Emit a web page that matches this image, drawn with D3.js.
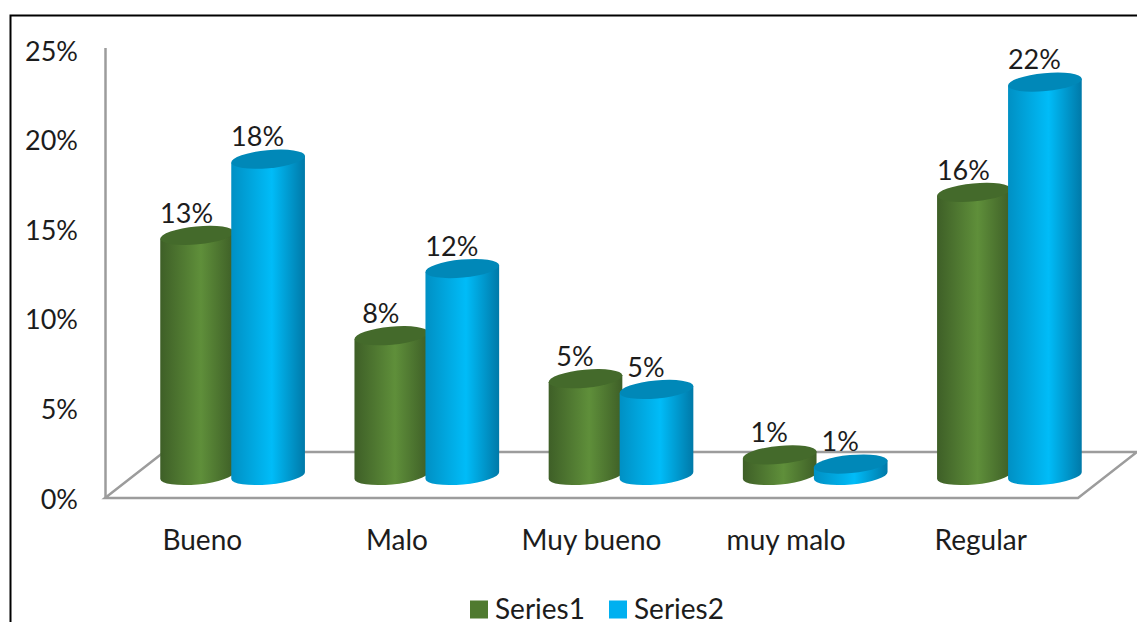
<!DOCTYPE html>
<html>
<head>
<meta charset="utf-8">
<script src="https://cdn.jsdelivr.net/npm/d3@7"></script>
<style>
  html, body { margin: 0; padding: 0; background: #fff; overflow: hidden; }
  text { font-family: Lato, "Open Sans", sans-serif; fill: #1c1c1c; }
</style>
</head>
<body>
<div id="chart"></div>
<script>
var categories = ['Bueno', 'Malo', 'Muy bueno', 'muy malo', 'Regular'];
var seriesNames = ['Series1', 'Series2'];
var series1 = [0.134, 0.078, 0.054, 0.0115, 0.158];
var series2 = [0.1765, 0.1155, 0.048, 0.0064, 0.2195];
var yTicks = [0, 0.05, 0.10, 0.15, 0.20, 0.25];

var width = 1137, height = 622;
var numberSize = 27, labelSize = 28;

// floor of the 3d box: front edge runs along the axis, back edge is further up and to the right
var floor = {left: 105, right: 1078, y: 498, dx: 59, dy: 46};
var plotTop = 48;

var colors = {
  Series1: {left: '#3e5f27', mid: '#5f8f3a', right: '#3e5f27', top: '#446a2b', swatch: '#4f7a2f'},
  Series2: {left: '#0090c4', mid: '#00bcf8', right: '#0079a8', top: '#0088b8', swatch: '#00b0f0'}
};

var percent = d3.format('.0%');

var yscale = d3.scaleLinear().domain([0, 0.25]).range([floor.y, plotTop + 2]);

// labels sit on the front edge of the floor
var xscale = d3.scaleBand().domain(categories).range([floor.left, floor.right]);

// cylinders stand half way into the depth of the floor
var barX = d3.scaleBand().domain(categories)
              .range([floor.left + 30.5, floor.right + 28.5]);
var seriesX = d3.scaleBand().domain(seriesNames).range([-71, 71]);
var depthY = -22.5;

var rx = seriesX.bandwidth() / 2 + 1.5, ry = 9, tilt = -5.4;
var rad = tilt * Math.PI / 180;
var ex = rx * Math.cos(rad), ey = rx * Math.sin(rad);

var svg = d3.select('#chart').append('svg')
    .attr('width', width)
    .attr('height', height);

svg.append('rect')
    .attr('x', 10.5).attr('y', 15.5)
    .attr('width', width + 20).attr('height', height + 20)
    .attr('fill', '#fff')
    .attr('stroke', '#000')
    .attr('stroke-width', 2);

// gradients across the width of each cylinder
var defs = svg.append('defs');
seriesNames.forEach(function (name) {
  var grad = defs.append('linearGradient').attr('id', 'grad' + name);
  grad.append('stop').attr('offset', '0%').attr('stop-color', colors[name].left);
  grad.append('stop').attr('offset', '55%').attr('stop-color', colors[name].mid);
  grad.append('stop').attr('offset', '100%').attr('stop-color', colors[name].right);
});

// walls and floor
svg.append('line')
    .attr('x1', floor.left + 0.5).attr('x2', floor.left + 0.5)
    .attr('y1', plotTop).attr('y2', floor.y)
    .attr('stroke', '#9c9c9c').attr('stroke-width', 2.5);

var floorPts = [
  [floor.left, floor.y],
  [floor.right, floor.y],
  [floor.right + floor.dx, floor.y - floor.dy],
  [floor.left + floor.dx, floor.y - floor.dy]
];
svg.append('path')
    .attr('d', d3.line()(floorPts) + 'Z')
    .attr('fill', 'none')
    .attr('stroke', '#9c9c9c')
    .attr('stroke-width', 2.5);

// y axis
var yAxis = svg.append('g')
    .attr('transform', 'translate(' + (floor.left - 22) + ',1.5)')
    .call(d3.axisLeft(yscale).tickValues(yTicks).tickFormat(percent).tickSize(0).tickPadding(5));
yAxis.select('.domain').remove();
yAxis.selectAll('text').style('font-size', numberSize + 'px').attr('font-family', null);

// x axis
var xAxis = svg.append('g')
    .attr('transform', 'translate(0,' + (floor.y + 43) + ')')
    .call(d3.axisBottom(xscale).tickSize(0).tickPadding(0));
xAxis.select('.domain').remove();
xAxis.selectAll('text').attr('dy', '0.32em').style('font-size', labelSize + 'px').attr('font-family', null);

// one record per cylinder
var bars = [];
categories.forEach(function (cat, i) {
  bars.push({cat: cat, name: 'Series1', value: series1[i]});
  bars.push({cat: cat, name: 'Series2', value: series2[i]});
});

function cx(d) { return barX(d.cat) + barX.bandwidth() / 2 + seriesX(d.name) + seriesX.bandwidth() / 2; }
function topY(d) { return yscale(d.value) + depthY; }

function bodyPath(d) {
  var x = cx(d), y0 = yscale(0) + depthY, y1 = topY(d);
  return 'M' + (x - ex) + ',' + (y1 - ey)
       + 'L' + (x - ex) + ',' + (y0 - ey)
       + 'A' + rx + ',' + ry + ' ' + tilt + ' 0 0 ' + (x + ex) + ',' + (y0 + ey)
       + 'L' + (x + ex) + ',' + (y1 + ey)
       + 'Z';
}

var cyl = svg.selectAll('.cylinder')
    .data(bars)
  .enter().append('g')
    .attr('class', 'cylinder');

cyl.append('path')
    .attr('d', bodyPath)
    .attr('fill', function (d) { return 'url(#grad' + d.name + ')'; });

cyl.append('ellipse')
    .attr('rx', rx)
    .attr('ry', ry)
    .attr('transform', function (d) {
      return 'translate(' + cx(d) + ',' + topY(d) + ') rotate(' + tilt + ')';
    })
    .attr('fill', function (d) { return colors[d.name].top; });

// value labels
svg.selectAll('.valueLabel')
    .data(bars)
  .enter().append('text')
    .attr('class', 'valueLabel')
    .attr('x', function (d) { return cx(d) - 10.5; })
    .attr('y', function (d) { return topY(d) - 22; })
    .attr('dy', '0.34em')
    .attr('text-anchor', 'middle')
    .style('font-size', numberSize + 'px')
    .text(function (d) { return percent(d.value); });

// legend
var legendX = d3.scaleOrdinal().domain(seriesNames).range([470, 609]);
var legend = svg.selectAll('.legendItem')
    .data(seriesNames)
  .enter().append('g')
    .attr('class', 'legendItem')
    .attr('transform', function (d) { return 'translate(' + legendX(d) + ',609.5)'; });

legend.append('rect')
    .attr('y', -9)
    .attr('width', 18)
    .attr('height', 18)
    .attr('fill', function (d) { return colors[d].swatch; });

legend.append('text')
    .attr('x', 25)
    .attr('dy', '0.34em')
    .style('font-size', labelSize + 'px')
    .text(function (d) { return d; });
</script>
</body>
</html>
